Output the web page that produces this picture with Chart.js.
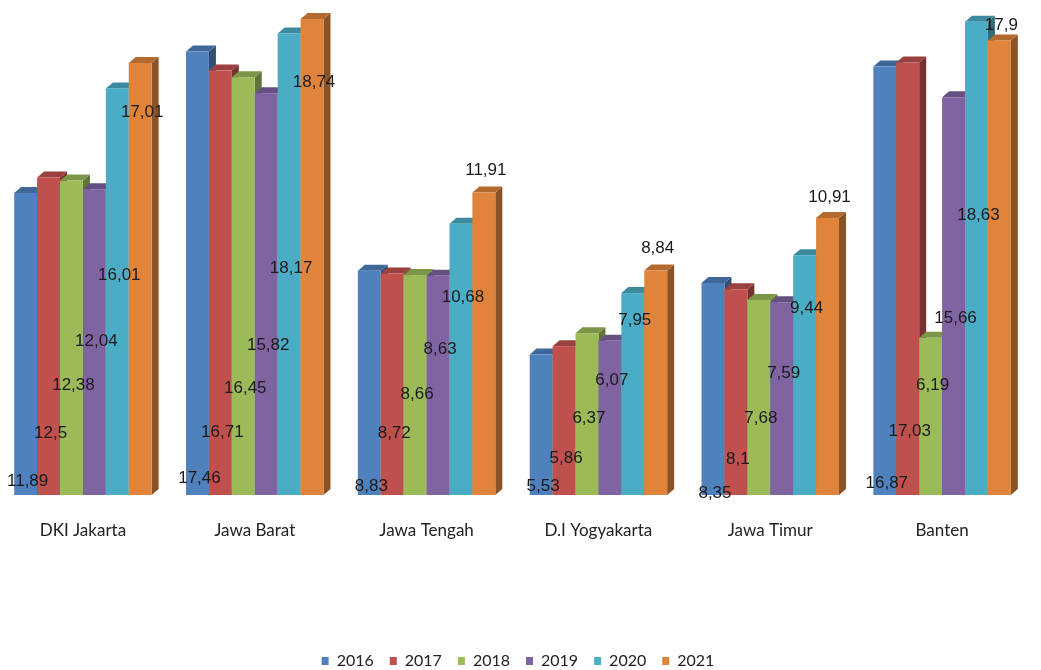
<!DOCTYPE html>
<html>
<head>
<meta charset="utf-8">
<script src="https://cdn.jsdelivr.net/npm/chart.js@4/dist/chart.umd.min.js"></script>
<style>
    html, body { margin: 0; padding: 0; background: #fff; overflow: hidden; }
    #wrap { position: absolute; left: -3px; top: 0; width: 1042px; height: 679px; }
</style>
</head>
<body>
<div id="wrap"><canvas id="chart"></canvas></div>
<script>
const categories = ['DKI Jakarta', 'Jawa Barat', 'Jawa Tengah', 'D.I Yogyakarta', 'Jawa Timur', 'Banten'];
const years = ['2016', '2017', '2018', '2019', '2020', '2021'];

const v2016 = [11.89, 17.46, 8.83, 5.53, 8.35, 16.87];
const v2017 = [12.5, 16.71, 8.72, 5.86, 8.1, 17.03];
const v2018 = [12.38, 16.45, 8.66, 6.37, 7.68, 6.19];
const v2019 = [12.04, 15.82, 8.63, 6.07, 7.59, 15.66];
const v2020 = [16.01, 18.17, 10.68, 7.95, 9.44, 18.63];
const v2021 = [17.01, 18.74, 11.91, 8.84, 10.91, 17.9];

// where each value label sits, in axis units (labels were moved around by hand in the original)
const labelAt2016 = [0.55, 0.67, 0.36, 0.36, 0.08, 0.47];
const labelAt2017 = [2.41, 2.45, 2.41, 1.46, 1.42, 2.52];
const labelAt2018 = [4.30, 4.22, 3.98, 3.00, 3.00, 4.30];
const labelAt2019 = [6.07, 5.88, 5.72, 4.50, 4.81, 6.94];
const labelAt2020 = [8.64, 8.92, 7.77, 6.86, 7.34, 11.01];
const labelAt2021 = [15.07, 16.25, 12.78, 9.70, 11.72, 18.50];

const series = [v2016, v2017, v2018, v2019, v2020, v2021];
const labelLevels = [labelAt2016, labelAt2017, labelAt2018, labelAt2019, labelAt2020, labelAt2021];
const colors = ['#4F81BD', '#C0504D', '#9BBB59', '#8064A2', '#4BACC6', '#E0843C'];

const DEPTH_X = 7;
const DEPTH_Y = 6;

function shade(hex, f) {
    const n = parseInt(hex.slice(1), 16);
    const r = Math.round(((n >> 16) & 255) * f);
    const g = Math.round(((n >> 8) & 255) * f);
    const b = Math.round((n & 255) * f);
    return 'rgb(' + r + ',' + g + ',' + b + ')';
}

// fake 3D: side + top face for every bar, drawn left to right so neighbours overlap
const bar3d = {
    id: 'bar3d',
    beforeDatasetsDraw(chart) {
        const ctx = chart.ctx;
        ctx.save();
        chart.data.datasets.forEach((ds, i) => {
            const meta = chart.getDatasetMeta(i);
            meta.data.forEach(bar => {
                const p = bar.getProps(['x', 'y', 'base', 'width'], true);
                const l = p.x - p.width / 2;
                const r = p.x + p.width / 2;

                ctx.fillStyle = shade(ds.backgroundColor, 0.62);
                ctx.beginPath();
                ctx.moveTo(r, p.base);
                ctx.lineTo(r + DEPTH_X, p.base - DEPTH_Y);
                ctx.lineTo(r + DEPTH_X, p.y - DEPTH_Y);
                ctx.lineTo(r, p.y);
                ctx.closePath();
                ctx.fill();

                ctx.fillStyle = shade(ds.backgroundColor, 0.8);
                ctx.beginPath();
                ctx.moveTo(l, p.y);
                ctx.lineTo(l + DEPTH_X, p.y - DEPTH_Y);
                ctx.lineTo(r + DEPTH_X, p.y - DEPTH_Y);
                ctx.lineTo(r, p.y);
                ctx.closePath();
                ctx.fill();

                ctx.fillStyle = ds.backgroundColor;
                ctx.fillRect(l, p.y, p.width, p.base - p.y);
            });
        });
        ctx.restore();
        return false;
    },
    afterDraw(chart) {
        const ctx = chart.ctx;
        const yScale = chart.scales.y;
        ctx.save();
        ctx.font = '17px "Liberation Sans", Arial, sans-serif';
        ctx.fillStyle = '#1a1a1a';
        ctx.textAlign = 'center';
        ctx.textBaseline = 'middle';
        chart.data.datasets.forEach((ds, i) => {
            const meta = chart.getDatasetMeta(i);
            meta.data.forEach((bar, j) => {
                const txt = String(ds.data[j]).replace('.', ',');
                ctx.fillText(txt, bar.x + 2, yScale.getPixelForValue(labelLevels[i][j]));
            });
        });
        ctx.restore();
    }
};

const ctx = document.getElementById('chart').getContext('2d');

new Chart(ctx, {
    type: 'bar',
    data: {
        labels: categories,
        datasets: years.map((y, i) => ({
            label: y,
            data: series[i],
            backgroundColor: colors[i],
            borderWidth: 0,
            barPercentage: 1,
            categoryPercentage: 0.8
        }))
    },
    options: {
        responsive: true,
        maintainAspectRatio: false,
        animation: false,
        layout: { padding: 0 },
        plugins: {
            legend: {
                position: 'bottom',
                labels: {
                    boxWidth: 7,
                    boxHeight: 8,
                    padding: 16,
                    color: '#222',
                    font: { family: 'Lato', size: 16 }
                }
            },
            tooltip: { enabled: false }
        },
        scales: {
            x: {
                grid: { display: false },
                border: { display: false },
                ticks: {
                    color: '#222',
                    padding: 17,
                    font: { family: 'Lato', size: 17 }
                },
                afterFit: (scale) => { scale.height = 142; }
            },
            y: {
                position: 'right',
                min: 0,
                max: 19.49,
                grid: { display: false },
                border: { display: false },
                ticks: { display: false },
                afterFit: (scale) => { scale.width = 11; }
            }
        }
    },
    plugins: [bar3d]
});
</script>
</body>
</html>
